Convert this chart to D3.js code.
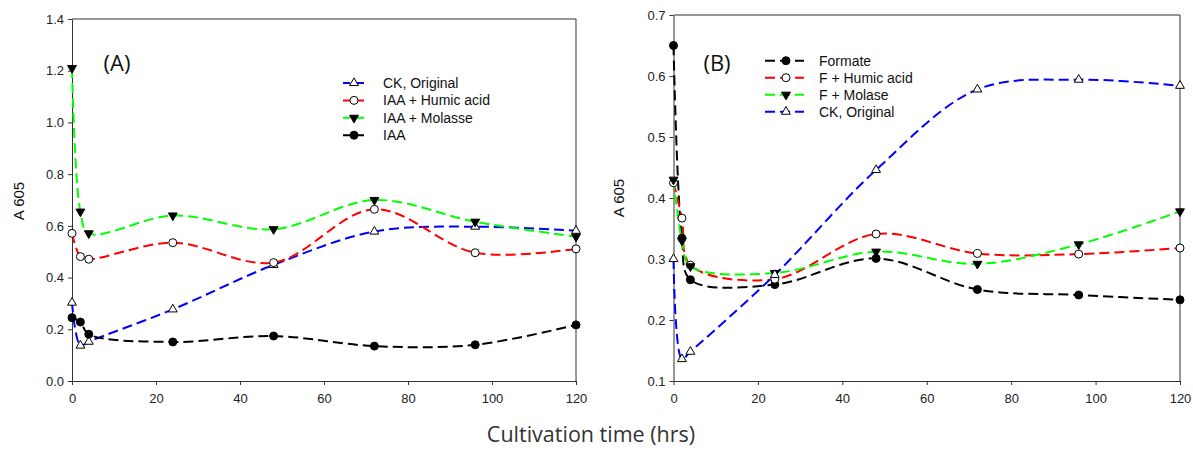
<!DOCTYPE html>
<html>
<head>
<meta charset="utf-8">
<script src="https://cdn.jsdelivr.net/npm/d3@7"></script>
<style>
  html, body { margin: 0; padding: 0; background: #fff; }
  svg { display: block; }
</style>
</head>
<body>
<svg id="chart" width="1193" height="450"></svg>
<script>
// ---------- data ----------
const time = [0, 2, 4, 24, 48, 72, 96, 120];
const xTicks = [0, 20, 40, 60, 80, 100, 120];

// Panel A
const ckA      = [0.303, 0.137, 0.152, 0.277, 0.449, 0.578, 0.597, 0.581];
const humicA   = [0.571, 0.481, 0.471, 0.535, 0.458, 0.664, 0.496, 0.511];
const molasseA = [1.21, 0.655, 0.571, 0.640, 0.587, 0.700, 0.616, 0.558];
const iaaA     = [0.245, 0.228, 0.181, 0.151, 0.174, 0.135, 0.140, 0.217];
const yTicksA  = [0.0, 0.2, 0.4, 0.6, 0.8, 1.0, 1.2, 1.4];
const namesA   = ["CK, Original", "IAA + Humic acid", "IAA + Molasse", "IAA"];

// Panel B
const formateB = [0.650, 0.334, 0.266, 0.258, 0.301, 0.250, 0.241, 0.233];
const humicB   = [0.425, 0.367, 0.290, 0.267, 0.341, 0.309, 0.308, 0.318];
const molaseB  = [0.430, 0.330, 0.288, 0.277, 0.312, 0.292, 0.324, 0.378];
const ckB      = [0.300, 0.136, 0.148, 0.274, 0.446, 0.578, 0.594, 0.584];
const yTicksB  = [0.1, 0.2, 0.3, 0.4, 0.5, 0.6, 0.7];
const namesB   = ["Formate", "F + Humic acid", "F + Molase", "CK, Original"];

// ---------- styles ----------
const COLORS = { blue: "#0000ff", red: "#ff0000", green: "#00ff00", black: "#000000" };
const seriesA = [
  { name: namesA[0], values: ckA,      color: COLORS.blue,  marker: "triUpOpen" },
  { name: namesA[1], values: humicA,   color: COLORS.red,   marker: "circleOpen" },
  { name: namesA[2], values: molasseA, color: COLORS.green, marker: "triDownFilled" },
  { name: namesA[3], values: iaaA,     color: COLORS.black, marker: "circleFilled" }
];
const seriesB = [
  { name: namesB[0], values: formateB, color: COLORS.black, marker: "circleFilled" },
  { name: namesB[1], values: humicB,   color: COLORS.red,   marker: "circleOpen" },
  { name: namesB[2], values: molaseB,  color: COLORS.green, marker: "triDownFilled" },
  { name: namesB[3], values: ckB,      color: COLORS.blue,  marker: "triUpOpen" }
];

const svg = d3.select("#chart");
const tickFont = "Liberation Sans, Arial, sans-serif";

function drawMarker(g, type, x, y) {
  if (type === "circleOpen" || type === "circleFilled") {
    g.append("circle").attr("cx", x).attr("cy", y).attr("r", 4)
      .attr("fill", type === "circleFilled" ? "#000" : "#fff")
      .attr("stroke", "#000").attr("stroke-width", 1);
  } else {
    const sym = d3.symbol().type(d3.symbolTriangle).size(34);
    const rot = type === "triDownFilled" ? 180 : 0;
    g.append("path").attr("d", sym())
      .attr("transform", `translate(${x},${y}) rotate(${rot})`)
      .attr("fill", type === "triDownFilled" ? "#000" : "#fff")
      .attr("stroke", "#000").attr("stroke-width", 1);
  }
}

function drawPanel(opts) {
  const { x0, x1, y0, y1, yDomain, yTicks, series, label, labelX, yLabelX, yLabelY, legend } = opts;
  const x = d3.scaleLinear().domain([0, 120]).range([x0, x1]);
  const y = d3.scaleLinear().domain(yDomain).range([y0, y1]);
  const g = svg.append("g");

  // frame (top & right)
  g.append("line").attr("x1", x0).attr("x2", x1).attr("y1", y1).attr("y2", y1)
    .attr("stroke", "#333").attr("stroke-width", 1);
  g.append("line").attr("x1", x1).attr("x2", x1).attr("y1", y1).attr("y2", y0)
    .attr("stroke", "#333").attr("stroke-width", 1);

  // axes
  const xAxis = g.append("g").attr("transform", `translate(0,${y0})`)
    .call(d3.axisBottom(x).tickValues(xTicks).tickFormat(d3.format("d")).tickSize(4).tickPadding(9).tickSizeOuter(0));
  const yAxis = g.append("g").attr("transform", `translate(${x0},0)`)
    .call(d3.axisLeft(y).tickValues(yTicks).tickFormat(d3.format(".1f")).tickSize(4).tickPadding(4).tickSizeOuter(0));
  [xAxis, yAxis].forEach(a => {
    a.selectAll("path.domain").attr("stroke", "#333");
    a.selectAll(".tick line").attr("stroke", "#333");
    a.selectAll("text").attr("font-family", tickFont).attr("font-size", "13px").attr("fill", "#222");
  });

  // lines
  const line = d3.line()
    .x((d, i) => x(time[i]))
    .y(d => y(d))
    .curve(d3.curveCatmullRom.alpha(0.5));
  series.forEach(s => {
    g.append("path").datum(s.values).attr("d", line)
      .attr("fill", "none").attr("stroke", s.color).attr("stroke-width", 2)
      .attr("stroke-dasharray", "10,5");
  });
  // markers
  series.forEach(s => {
    s.values.forEach((v, i) => drawMarker(g, s.marker, x(time[i]), y(v)));
  });

  // panel label
  g.append("text").attr("x", labelX).attr("y", 71).attr("text-anchor", "middle")
    .attr("font-family", "Open Sans, sans-serif").attr("font-size", "22px").attr("fill", "#111")
    .text(label);

  // y label
  g.append("text").attr("transform", `translate(${yLabelX},${yLabelY}) rotate(-90)`)
    .attr("text-anchor", "middle").attr("dy", "0.35em")
    .attr("font-family", tickFont).attr("font-size", "15px").attr("fill", "#111")
    .text("A 605");

  // legend
  series.forEach((s, i) => {
    const ly = legend.y + i * legend.dy;
    g.append("line").attr("x1", legend.lx0).attr("x2", legend.lx1).attr("y1", ly).attr("y2", ly)
      .attr("stroke", s.color).attr("stroke-width", 2).attr("stroke-dasharray", legend.dash);
    drawMarker(g, s.marker, legend.mx, ly);
    g.append("text").attr("x", legend.tx).attr("y", ly).attr("dy", "0.35em")
      .attr("font-family", tickFont).attr("font-size", "14px").attr("fill", "#111")
      .text(s.name);
  });
}

drawPanel({
  x0: 72, x1: 576, y0: 381, y1: 19, yDomain: [0, 1.4], yTicks: yTicksA,
  series: seriesA, label: "(A)", labelX: 117, yLabelX: 19, yLabelY: 201,
  legend: { lx0: 343, lx1: 364, mx: 354, tx: 383, y: 83, dy: 17.4, dash: "7,7" }
});
drawPanel({
  x0: 673.5, x1: 1180, y0: 381, y1: 15, yDomain: [0.1, 0.7], yTicks: yTicksB,
  series: seriesB, label: "(B)", labelX: 717, yLabelX: 619, yLabelY: 198,
  legend: { lx0: 765, lx1: 804, mx: 786, tx: 819, y: 60.7, dy: 17, dash: "10,5" }
});

// shared x title
svg.append("text").attr("x", 591).attr("y", 442).attr("text-anchor", "middle")
  .attr("font-family", "Open Sans, sans-serif").attr("font-size", "21.5px").attr("fill", "#333")
  .text("Cultivation time (hrs)");
</script>
</body>
</html>
